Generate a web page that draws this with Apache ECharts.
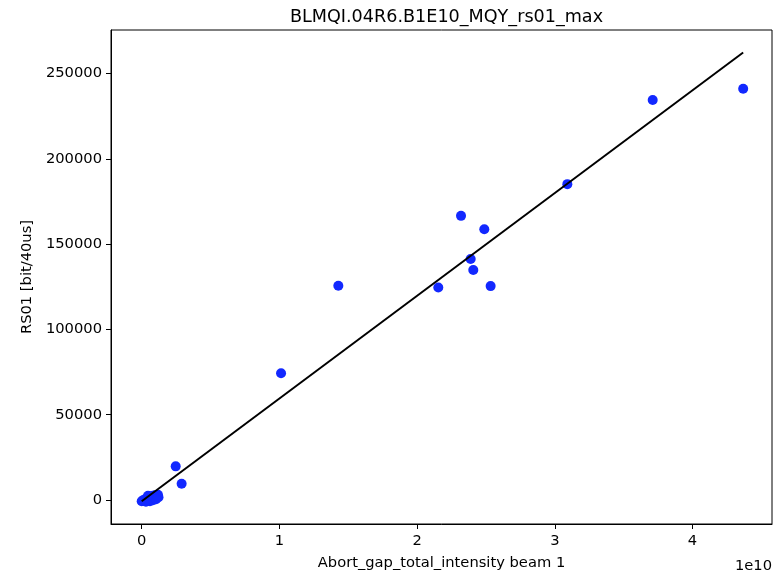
<!DOCTYPE html>
<html>
<head>
<meta charset="utf-8">
<script src="https://cdn.jsdelivr.net/npm/echarts@6/dist/echarts.min.js"></script>
<style>html,body{margin:0;padding:0;background:#fff}#c{width:774px;height:576px}</style>
</head>
<body>
<div id="c"></div>
<script>
// Scatter data (x: Abort gap intensity, y: RS01 bit/40us)
var xValues = [4.368e10, 3.711e10, 3.091e10, 2.319e10, 2.488e10, 2.389e10, 2.408e10, 2.154e10, 2.534e10, 1.428e10, 1.012e10, 0.247e10, 0.290e10,
  0.000e10, 0.0094e10, 0.024e10, 0.038e10, 0.053e10, 0.068e10, 0.082e10, 0.097e10, 0.111e10, 0.122e10, 0.118e10, 0.060e10, 0.031e10, 0.082e10, 0.104e10, 0.046e10];
var yValues = [241100, 234500, 185200, 166600, 158700, 141300, 134900, 124600, 125400, 125600, 74300, 19700, 9500,
  -750, -170, 400, 990, 1570, 2150, 2440, 2730, 2150, 1570, 3020, -750, -1000, -170, 400, 2440];
// Fit line endpoints
var fitX = [0, 4.368e10];
var fitY = [-800, 262400];
var xTicks = [0, 1e10, 2e10, 3e10, 4e10];
var yTicks = [0, 50000, 100000, 150000, 200000, 250000];

var scatterData = xValues.map(function (x, i) { return [x, yValues[i]]; });
var lineData = fitX.map(function (x, i) { return [x, fitY[i]]; });

var font = 'DejaVu Sans';
var fs = 14.7;
var chart = echarts.init(document.getElementById('c'));
chart.setOption({
  animation: false,
  backgroundColor: '#ffffff',
  title: {
    text: 'BLMQI.04R6.B1E10_MQY_rs01_max',
    left: 441.5, top: 3, textAlign: 'center',
    textStyle: { fontFamily: font, fontSize: 17.6, fontWeight: 'normal', color: '#000' }
  },
  grid: { left: 111, right: 2, top: 30, bottom: 47, show: true, borderColor: '#000', borderWidth: 1, backgroundColor: 'transparent' },
  xAxis: {
    type: 'value', min: -0.2229e10, max: 4.5773e10,
    name: 'Abort_gap_total_intensity beam 1', nameLocation: 'middle', nameGap: 32,
    nameTextStyle: { fontFamily: font, fontSize: fs, color: '#000' },
    splitLine: { show: false },
    axisLine: { show: true, onZero: false, lineStyle: { color: '#000', width: 1 } },
    axisTick: { show: true, length: 5, lineStyle: { color: '#000' }, customValues: xTicks },
    axisLabel: { margin: 10, fontFamily: font, fontSize: fs, color: '#000', customValues: xTicks,
      formatter: function (v) { return String(Math.round(v / 1e10)); } }
  },
  yAxis: {
    type: 'value', min: -14100, max: 275600,
    name: 'RS01 [bit/40us]', nameLocation: 'middle', nameGap: 72,
    nameTextStyle: { fontFamily: font, fontSize: fs, color: '#000' },
    splitLine: { show: false },
    axisLine: { show: true, onZero: false, lineStyle: { color: '#000', width: 1 } },
    axisTick: { show: true, length: 5, lineStyle: { color: '#000' }, customValues: yTicks },
    axisLabel: { margin: 9, fontFamily: font, fontSize: fs, color: '#000', customValues: yTicks,
      formatter: function (v) { return String(v); } }
  },
  graphic: [{
    type: 'text', right: 2, top: 559,
    style: { text: '1e10', fontFamily: font, fontSize: fs, fill: '#000' }
  }],
  series: [
    {
      type: 'scatter', data: scatterData, symbol: 'circle', symbolSize: 10,
      itemStyle: { color: '#1228ff', opacity: 1 }, z: 2
    },
    {
      type: 'line', data: lineData, symbol: 'none', showSymbol: false,
      lineStyle: { color: '#000', width: 2 }, z: 3
    }
  ]
});
</script>
</body>
</html>
